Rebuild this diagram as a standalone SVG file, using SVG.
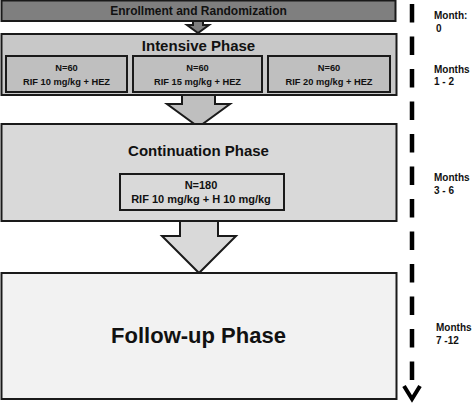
<svg xmlns="http://www.w3.org/2000/svg" width="474" height="404" viewBox="0 0 474 404">
<style>
text{font-family:"Liberation Sans",Arial,sans-serif;font-weight:bold;fill:#111;text-anchor:middle}
.box{stroke:#1a1a1a;stroke-width:2}
.t15{font-size:15px}
.sub{font-size:9.3px}
.mo{font-size:10px;text-anchor:start}
</style>
<rect width="474" height="404" fill="#fff"/>
<g id="connectors" class="box">
<path d="M193,21 V25 H187 L198,33 L209,25 H203 V21" fill="#7f7f7f"/>
<path d="M182,95 V104 H167 L198.5,127 L230,104 H215 V95" fill="#bfbfbf"/>
<path d="M180,221 V236 H162 L199,273 L236,236 H218 V221" fill="#d9d9d9"/>
</g>
<g id="enrollment">
<rect class="box" x="1.5" y="0.5" width="394" height="20.5" fill="#7f7f7f" stroke="#333"/>
<text x="198.5" y="15" style="font-size:12px">Enrollment and Randomization</text>
</g>
<g id="intensive">
<rect class="box" x="1.5" y="34" width="395" height="61" fill="#c8c8c8"/>
<text class="t15" x="198.5" y="51">Intensive Phase</text>
</g>
<g id="arm1">
<rect class="box" x="6" y="56" width="121" height="36" fill="#bfbfbf"/>
<text class="sub" x="66.5" y="71">N=60</text>
<text class="sub" x="66.5" y="85">RIF 10 mg/kg + HEZ</text>
</g>
<g id="arm2">
<rect class="box" x="133" y="56" width="129" height="36" fill="#bfbfbf"/>
<text class="sub" x="197.5" y="71">N=60</text>
<text class="sub" x="197.5" y="85">RIF 15 mg/kg + HEZ</text>
</g>
<g id="arm3">
<rect class="box" x="268" y="56" width="122" height="36" fill="#bfbfbf"/>
<text class="sub" x="329" y="71">N=60</text>
<text class="sub" x="329" y="85">RIF 20 mg/kg + HEZ</text>
</g>
<g id="continuation">
<rect class="box" x="1.5" y="124" width="395" height="97" fill="#d9d9d9"/>
<text class="t15" x="198.5" y="156">Continuation Phase</text>
</g>
<g id="continuation-arm">
<rect class="box" x="120" y="174" width="164" height="36" fill="#d9d9d9"/>
<text x="201" y="189" style="font-size:11px">N=180</text>
<text x="201" y="203" style="font-size:11px">RIF 10 mg/kg + H 10 mg/kg</text>
</g>
<g id="followup">
<rect class="box" x="1.5" y="273" width="395" height="126" fill="#f2f2f2"/>
<text x="198.5" y="343" style="font-size:22px">Follow-up Phase</text>
</g>
<g id="timeline">
<line x1="412" y1="4" x2="412" y2="381" stroke="#000" stroke-width="4.5" stroke-dasharray="18.5 14"/>
<path d="M404,386 L412,399 L420,386" fill="none" stroke="#000" stroke-width="4"/>
<text class="mo" x="434" y="19">Month:</text>
<text class="mo" x="436" y="32">0</text>
<text class="mo" x="434" y="73">Months</text>
<text class="mo" x="434" y="85">1 - 2</text>
<text class="mo" x="434" y="181">Months</text>
<text class="mo" x="434" y="194">3 - 6</text>
<text class="mo" x="436" y="331">Months</text>
<text class="mo" x="436" y="344">7 -12</text>
</g>
</svg>
